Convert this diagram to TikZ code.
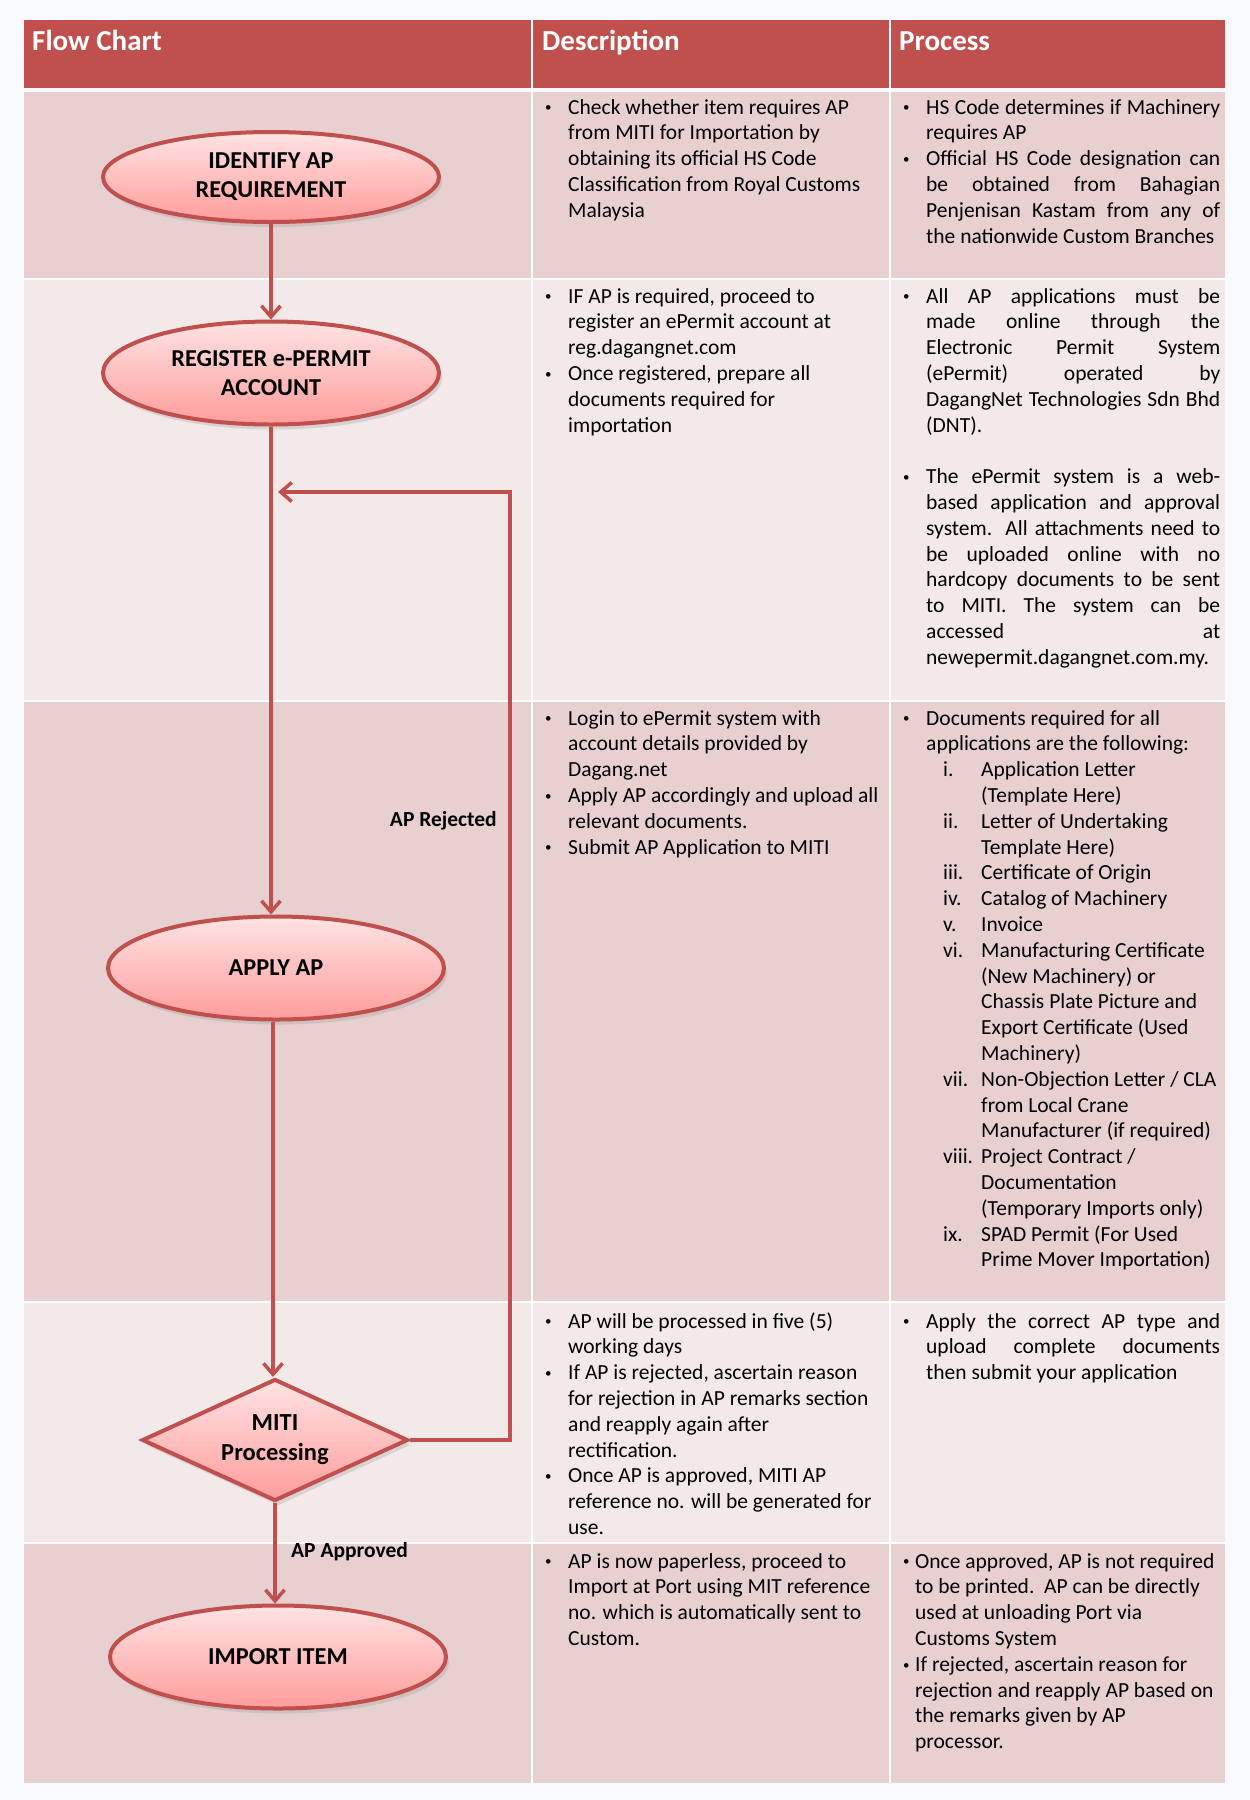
\documentclass[tikz,border=0pt]{standalone}
\usepackage{fontspec}
\setmainfont{Carlito}
\usetikzlibrary{shapes.geometric,arrows.meta,shadows}
\definecolor{hdr}{HTML}{C0504D}
\definecolor{rowA}{HTML}{E8D0D0}
\definecolor{rowB}{HTML}{F3E9E9}
\definecolor{bgc}{HTML}{F7F9FC}
\definecolor{shTop}{HTML}{FFE3E3}
\definecolor{shBot}{HTML}{FF9C9C}
\newlength\bw
\newlength\tw
\setlength\tw{294pt}
\newcommand\bul{\raisebox{2.2pt}{\fontsize{13}{13}\selectfont\textbullet}}
\newcommand\B[1]{\par\noindent\hbox to\bw{\bul\hss}#1}
\newcommand\C[1]{\par\noindent\hspace*{\bw}#1}
\newcommand\BJ[1]{\par\noindent\hbox to\bw{\bul\hss}\makebox[\tw][s]{#1}}
\newcommand\CJ[1]{\par\noindent\hspace*{\bw}\makebox[\tw][s]{#1}}
\newcommand\R[2]{\par\noindent\hspace*{40pt}\hbox to 38pt{#1\hss}#2}
\newcommand\RC[1]{\par\noindent\hspace*{78pt}#1}
\newcommand\cell[2][23pt]{\vtop{\hsize=340pt\setlength\bw{#1}\parindent=0pt\parskip=0pt
  \rightskip=0pt plus 1fil\parfillskip=0pt plus 1fil\lineskiplimit=-100pt
  \fontsize{21.5}{25.8}\selectfont #2\par}}
\tikzset{
  flowline/.style={draw=hdr, line width=3.5pt},
  arr/.style={flowline, -{Straight Barb[length=11pt,width=19pt]}},
  term/.style={ellipse, draw=hdr, line width=4pt, top color=shTop, bottom color=shBot,
    minimum width=336pt, minimum height=103pt, inner sep=0pt, align=center,
    font=\fontsize{24.3}{29}\selectfont\bfseries,
    drop shadow={shadow xshift=3pt, shadow yshift=-5pt, opacity=0.22}},
  decide/.style={diamond, draw=hdr, line width=4pt, top color=shTop, bottom color=shBot,
    minimum width=266pt, minimum height=122pt, aspect=2.15, inner sep=0pt, align=center,
    font=\fontsize{24.5}{30}\selectfont\bfseries,
    drop shadow={shadow xshift=3pt, shadow yshift=-5pt, opacity=0.22}},
  hdrtext/.style={anchor=base west, inner sep=0pt, text=white, font=\fontsize{29}{32}\selectfont\bfseries},
  cellt/.style={anchor=base west, inner sep=0pt},
  lbl/.style={font=\fontsize{21.5}{25}\selectfont\bfseries, inner sep=0pt},
  sep/.style={white, line width=2pt}
}
\begin{document}
\begin{tikzpicture}[x=1pt,y=-1pt]
\useasboundingbox (0,0) rectangle (1250,1800);
\fill[bgc] (0,0) rectangle (1250,1800);
% table
\fill[hdr] (24,19.5) rectangle (1225,88);
\fill[rowA] (24,92) rectangle (1225,278.5);
\fill[rowB] (24,278.5) rectangle (1225,701);
\fill[rowA] (24,701) rectangle (1225,1302);
\fill[rowB] (24,1302) rectangle (1225,1543);
\fill[rowA] (24,1543) rectangle (1225,1783);
\draw[sep] (24,278.5) -- (1225,278.5);
\draw[sep] (24,701) -- (1225,701);
\draw[sep] (24,1302) -- (1225,1302);
\draw[sep] (24,1543) -- (1225,1543);
\draw[sep, line width=1.5pt] (532,19.5) -- (532,1783);
\draw[sep, line width=1.5pt] (890,19.5) -- (890,1783);
% headers
\node[hdrtext] (h1) at (32,50) {Flow Chart};
\node[hdrtext] (h2) at (542,50) {Description};
\node[hdrtext] (h3) at (899,50) {Process};
% flow chart
\node[term, minimum height=90pt] (n1) at (271,177) {IDENTIFY AP\\REQUIREMENT};
\node[term] (n2) at (271,373) {REGISTER e-PERMIT\\ACCOUNT};
\node[term] (n3) at (276,968) {APPLY AP};
\node[decide] (n4) at (275,1440) {MITI\\Processing};
\node[term] (n5) at (278,1657) {IMPORT ITEM};
\draw[arr] (n1.south) -- (n1.south |- n2.north);
\draw[arr] (n2.south) -- (n2.south |- n3.north);
\draw[arr] ([xshift=-3pt]n3.south) -- ([xshift=-2pt]n4.north);
\draw[arr] (n4.south) -- (n4.south |- n5.north);
\coordinate (r1) at (510,1440);
\coordinate (r2) at (510,492);
\coordinate (r3) at (278,492);
\draw[arr] (n4.east) -- (r1) -- (r2) -- (r3);
\node[lbl, anchor=base east] (lrej) at (497,826) {AP Rejected};
\node[lbl, anchor=base west] (lapp) at (291,1557) {AP Approved};
% descriptions
\node[cellt] (d1) at (545,114) {\cell{%
\B{Check whether item requires AP}
\C{from MITI for Importation by}
\C{obtaining its official HS Code}
\C{Classification from Royal Customs}
\C{Malaysia}}};
\node[cellt] (d2) at (545,303) {\cell{%
\B{IF AP is required, proceed to}
\C{register an ePermit account at}
\C{reg.dagangnet.com}
\B{Once registered, prepare all}
\C{documents required for}
\C{importation}}};
\node[cellt] (d3) at (545,725) {\cell{%
\B{Login to ePermit system with}
\C{account details provided by}
\C{Dagang.net}
\B{Apply AP accordingly and upload all}
\C{relevant documents.}
\B{Submit AP Application to MITI}}};
\node[cellt] (d4) at (545,1328) {\cell{%
\B{AP will be processed in five (5)}
\C{working days}
\B{If AP is rejected, ascertain reason}
\C{for rejection in AP remarks section}
\C{and reapply again after}
\C{rectification.}
\B{Once AP is approved, MITI AP}
\C{reference no. will be generated for}
\C{use.}}};
\node[cellt] (d5) at (545,1568) {\cell{%
\B{AP is now paperless, proceed to}
\C{Import at Port using MIT reference}
\C{no. which is automatically sent to}
\C{Custom.}}};
% process
\node[cellt] (p1) at (903,114) {\cell{%
\BJ{HS Code determines if Machinery}
\C{requires AP}
\BJ{Official HS Code designation can}
\CJ{be obtained from Bahagian}
\CJ{Penjenisan Kastam from any of}
\C{the nationwide Custom Branches}}};
\node[cellt] (p2) at (903,303) {\cell{%
\BJ{All AP applications must be}
\CJ{made online through the}
\CJ{Electronic Permit System}
\CJ{(ePermit) operated by}
\CJ{DagangNet Technologies Sdn Bhd}
\C{(DNT).}
\C{}
\BJ{The ePermit system is a web-}
\CJ{based application and approval}
\CJ{system. All attachments need to}
\CJ{be uploaded online with no}
\CJ{hardcopy documents to be sent}
\CJ{to MITI. The system can be}
\CJ{accessed at}
\C{newepermit.dagangnet.com.my.}}};
\node[cellt] (p3) at (903,725) {\cell{%
\B{Documents required for all}
\C{applications are the following:}
\R{i.}{Application Letter}
\RC{(Template Here)}
\R{ii.}{Letter of Undertaking}
\RC{Template Here)}
\R{iii.}{Certificate of Origin}
\R{iv.}{Catalog of Machinery}
\R{v.}{Invoice}
\R{vi.}{Manufacturing Certificate}
\RC{(New Machinery) or}
\RC{Chassis Plate Picture and}
\RC{Export Certificate (Used}
\RC{Machinery)}
\R{vii.}{Non-Objection Letter / CLA}
\RC{from Local Crane}
\RC{Manufacturer (if required)}
\R{viii.}{Project Contract /}
\RC{Documentation}
\RC{(Temporary Imports only)}
\R{ix.}{SPAD Permit (For Used}
\RC{Prime Mover Importation)}}};
\node[cellt] (p4) at (903,1328) {\cell{%
\BJ{Apply the correct AP type and}
\CJ{upload complete documents}
\C{then submit your application}}};
\node[cellt] (p5) at (903,1568) {\cell[12pt]{%
\B{Once approved, AP is not required}
\C{to be printed.\ \ AP can be directly}
\C{used at unloading Port via}
\C{Customs System}
\B{If rejected, ascertain reason for}
\C{rejection and reapply AP based on}
\C{the remarks given by AP}
\C{processor.}}};
\end{tikzpicture}
\end{document}
